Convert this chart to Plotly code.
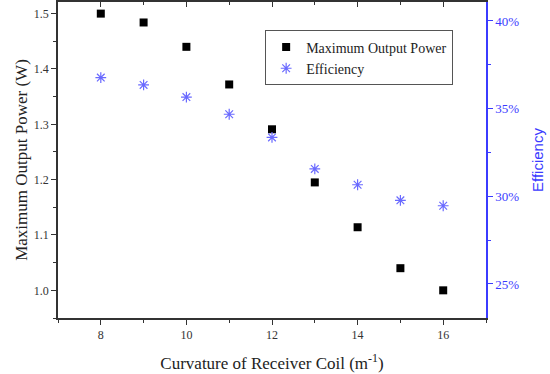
import plotly.graph_objects as go

curvature = [8, 9, 10, 11, 12, 13, 14, 15, 16]
max_power = [1.500, 1.484, 1.440, 1.372, 1.291, 1.195, 1.114, 1.040, 1.000]
efficiency = [0.3677, 0.3635, 0.3566, 0.3468, 0.3336, 0.3156, 0.3066, 0.2977, 0.2946]

FONT = "Liberation Serif, Times New Roman, serif"
BLUE = "#3b3bff"

fig = go.Figure()
fig.add_trace(go.Scatter(
    x=curvature, y=max_power, mode="markers", name="Maximum Output Power",
    marker=dict(symbol="square", size=8, color="black"),
))
fig.add_trace(go.Scatter(
    x=curvature, y=efficiency, mode="markers", name="Efficiency", yaxis="y2",
    marker=dict(symbol="asterisk-open", size=9, color="#6a6aff",
                line=dict(color="#6a6aff", width=1.2)),
))
# invisible trace to drive the top axis
fig.add_trace(go.Scatter(x=curvature, y=max_power, xaxis="x2", mode="markers",
                         marker=dict(opacity=0), showlegend=False, hoverinfo="skip"))

fig.update_layout(
    width=550, height=374,
    margin=dict(l=58, r=64, t=2, b=56),
    paper_bgcolor="white", plot_bgcolor="white",
    font=dict(family=FONT, size=12, color="#222"),
    showlegend=True,
    legend=dict(x=0.484, y=0.91, xanchor="left", yanchor="top",
                bordercolor="#555", borderwidth=1, bgcolor="white",
                font=dict(family=FONT, size=14, color="#222"),
                itemwidth=30, tracegroupgap=0),
    xaxis=dict(
        range=[7, 17], tickvals=[8, 10, 12, 14, 16],
        showline=True, linecolor="#333", linewidth=1.5,
        ticks="outside", ticklen=5, tickcolor="#333", tickwidth=1.2,
        minor=dict(dtick=1, ticks="outside", ticklen=3, tickcolor="#333"),
        showgrid=False, zeroline=False, automargin=False,
        tickfont=dict(family=FONT, size=12, color="#333"),
        title=dict(text="Curvature of Receiver Coil (m<sup>-1</sup>)",
                   font=dict(family=FONT, size=17, color="#222"), standoff=16),
    ),
    xaxis2=dict(
        overlaying="x", side="top", range=[7, 17], tickvals=[8, 10, 12, 14, 16],
        showline=True, linecolor="#333", linewidth=1.5,
        ticks="inside", ticklen=5, tickcolor="#333", tickwidth=1.2,
        minor=dict(dtick=1, ticks="inside", ticklen=3, tickcolor="#333"),
        showticklabels=False, showgrid=False, zeroline=False, automargin=False,
    ),
    yaxis=dict(
        range=[0.95, 1.521], tickvals=[1.0, 1.1, 1.2, 1.3, 1.4, 1.5],
        tickformat=".1f",
        showline=True, linecolor="#333", linewidth=1.5,
        ticks="outside", ticklen=5, tickcolor="#333", tickwidth=1.2,
        minor=dict(dtick=0.05, ticks="outside", ticklen=3, tickcolor="#333"),
        showgrid=False, zeroline=False, automargin=False,
        tickfont=dict(family=FONT, size=12, color="#333"),
        title=dict(text="Maximum Output Power (W)",
                   font=dict(family=FONT, size=17, color="#222"), standoff=2),
    ),
    yaxis2=dict(
        overlaying="y", side="right", anchor="x",
        range=[0.2306, 0.4108], tickvals=[0.25, 0.30, 0.35, 0.40],
        tickformat=".0%",
        showline=True, linecolor=BLUE, linewidth=1.5,
        ticks="outside", ticklen=5, tickcolor=BLUE, tickwidth=1.2,
        minor=dict(dtick=0.025, ticks="outside", ticklen=3, tickcolor=BLUE),
        showgrid=False, zeroline=False, automargin=False,
        tickfont=dict(family=FONT, size=13, color=BLUE),
    ),
    annotations=[dict(
        text="Efficiency", xref="paper", yref="paper",
        x=1.0, xanchor="center", xshift=51, y=0.5, yanchor="middle",
        textangle=-90, showarrow=False,
        font=dict(family="Liberation Sans, Arial, sans-serif", size=15, color=BLUE),
    )],
)

fig.write_html("out.html", config={"displayModeBar": False},
               post_script="document.body.style.margin='0';")
